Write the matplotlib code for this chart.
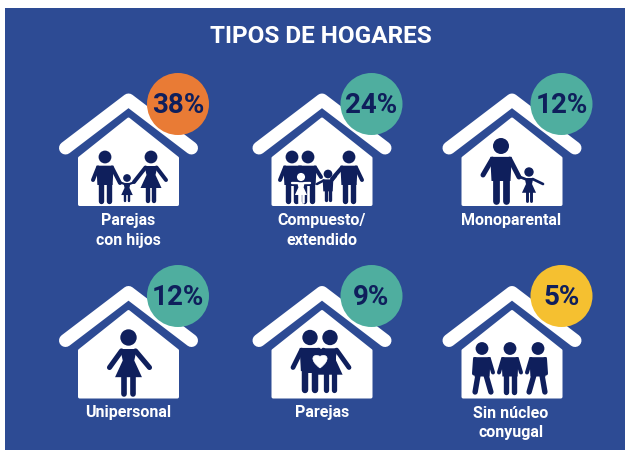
import matplotlib
matplotlib.use("Agg")
import matplotlib.pyplot as plt
from matplotlib.patches import Circle, Polygon, Rectangle, PathPatch
from matplotlib.path import Path

# Data
title = "TIPOS DE HOGARES"
labels = [["Parejas", "con hijos"], ["Compuesto/", "extendido"], ["Monoparental"],
          ["Unipersonal"], ["Parejas"], ["Sin núcleo", "conyugal"]]
percents = [38, 24, 12, 12, 9, 5]
badge_colors = ["#E97B35", "#4FAE9F", "#4FAE9F", "#4FAE9F", "#4FAE9F", "#F5C030"]

BLUE = "#2D4B94"
NAVY = "#0F1F5C"
WHITE = "#FFFFFF"
FONT = ["Roboto", "DejaVu Sans"]
PX = 0.72  # one pixel in points at dpi 100

# Layout in pixels
col_x = [128.5, 322, 512]
row_y = [0, 192.5]
label_x = [128, 322, 511]

fig = plt.figure(figsize=(6.25, 4.5), dpi=100)
ax = fig.add_axes([0, 0, 1, 1])
ax.set_xlim(0, 625)
ax.set_ylim(450, 0)
ax.axis("off")
ax.add_patch(Rectangle((5, 8), 620, 442, color=BLUE, lw=0, zorder=0))


def limb(x0, y0, x1, y1, w, color, z=3):
    ax.plot([x0, x1], [y0, y1], color=color, lw=w * PX, solid_capstyle="round", zorder=z)


def person(x, y, s, skirt=False, hands=((-12, 23), (12, 23)), splay=(0, 0), color=NAVY, z=3):
    head = 6.4 * s if s >= 0.8 else 7 * s
    ax.add_patch(Circle((x, y), head, color=color, lw=0, zorder=z))
    w = 4 * s
    if skirt:
        pts = [(-6.5, 9), (6.5, 9), (4.5, 18), (10.5, 31), (-10.5, 31), (-4.5, 18)]
        arm_y = 10.5
        shoulder = 5.5
    else:
        pts = [(-8.6, 8.7), (8.6, 8.7), (7.6, 28), (-7.6, 28)]
        arm_y = 10.5
        shoulder = 7
    ax.add_patch(Polygon([(x + a * s, y + b * s) for a, b in pts], color=color, lw=0, zorder=z))
    for hx, hy, side in [(hands[0][0], hands[0][1], -1), (hands[1][0], hands[1][1], 1)]:
        limb(x + side * shoulder * s, y + arm_y * s, x + hx, y + hy, w, color, z)
    # legs
    top = 26 * s
    foot = 45 * s - 1.5
    gap = 3.2 * s if skirt else 3.9 * s
    lw_leg = 4.4 * s if skirt else 5.4 * s
    limb(x - gap, y + top, x - gap + splay[0], y + foot, lw_leg, color, z)
    limb(x + gap, y + top, x + gap + splay[1], y + foot, lw_leg, color, z)


def house(cx, dy):
    roof_x = [cx - 63, cx, cx + 63]
    roof_y = [148 + dy, 100 + dy, 148 + dy]
    ax.plot(roof_x, roof_y, color=WHITE, lw=13 * PX, solid_capstyle="round",
            solid_joinstyle="round", zorder=1)
    body = [(cx - 49, 158 + dy), (cx, 119 + dy), (cx + 49, 158 + dy),
            (cx + 49, 204.5 + dy), (cx - 49, 204.5 + dy)]
    ax.add_patch(Polygon(body, closed=True, fc=WHITE, ec=WHITE, lw=3 * PX,
                         joinstyle="round", zorder=1))


def heart(x, y, r):
    verts = [(x, y + r), (x - 1.5 * r, y - 0.1 * r), (x - r, y - r), (x, y - 0.55 * r),
             (x + r, y - r), (x + 1.5 * r, y - 0.1 * r), (x, y + r)]
    codes = [Path.MOVETO, Path.CURVE4, Path.CURVE4, Path.CURVE4, Path.CURVE4, Path.CURVE4, Path.CURVE4]
    ax.add_patch(PathPatch(Path(verts, codes), fc=WHITE, ec=WHITE, lw=0.5, zorder=5))


def block(x0, x1, y0, y1, color=NAVY, z=3):
    ax.add_patch(Rectangle((x0, y0), x1 - x0, y1 - y0, color=color, lw=0, zorder=z))


def icon_parejas_hijos(cx, dy):
    person(cx - 23.5, 157 + dy, 1, hands=((-12, 23), (15, 26)))
    person(cx + 22.5, 157 + dy, 1, skirt=True, hands=((-17, 25), (15, 23)))
    person(cx - 1.5, 178 + dy, 0.55, skirt=True, hands=((-8, 4), (8, 4)))


def icon_compuesto(cx, dy):
    person(cx - 30, 157 + dy, 1, hands=((-12, 23), (0, 20)))
    person(cx - 14, 157 + dy, 1, hands=((-2, 20), (13, 20)))
    block(cx - 36, cx - 8, 166 + dy, 186 + dy)
    person(cx - 21, 177 + dy, 0.58, skirt=True, hands=((-9, 6), (9, 6)), color=WHITE, z=4)
    person(cx + 27, 157 + dy, 1, hands=((-17, 22), (13, 23)))
    person(cx + 6, 174 + dy, 0.62, hands=((-11, 10), (8, 2)))


def icon_monoparental(cx, dy):
    person(cx - 11, 146 + dy, 1.25, hands=((-18, 29), (18, 31)))
    person(cx + 17, 172 + dy, 0.67, skirt=True, hands=((-9, 5), (14, 12)))


def icon_unipersonal(cx, dy):
    person(cx, 145 + dy, 1.28, skirt=True, hands=((-19, 30), (21, 30)))


def icon_parejas(cx, dy):
    person(cx - 12, 145 + dy, 1.2, hands=((-17, 30), (8, 22)))
    person(cx + 8, 145 + dy, 1.2, skirt=True, hands=((-8, 22), (19, 30)))
    block(cx - 20, cx + 14, 156 + dy, 180 + dy)
    heart(cx - 2, 168 + dy, 7.5)


def icon_sin_nucleo(cx, dy):
    person(cx - 30, 156 + dy, 1, hands=((-8, 25), (11, 24)), splay=(-3, 5))
    person(cx - 2, 156 + dy, 1, hands=((-11, 24), (11, 24)))
    person(cx + 26, 156 + dy, 1, hands=((-11, 24), (8, 25)), splay=(-5, 3))


icons = [icon_parejas_hijos, icon_compuesto, icon_monoparental,
         icon_unipersonal, icon_parejas, icon_sin_nucleo]

ax.text(321, 43, title, color=WHITE, fontsize=17.5, fontweight="bold", family=FONT,
        ha="center", va="baseline")

for i in range(6):
    cx = col_x[i % 3]
    dy = row_y[i // 3]
    house(cx, dy)
    icons[i](cx, dy)
    bx = cx + 49.5
    by = 104 + dy - (0.5 if i > 2 else 0)
    ax.add_patch(Circle((bx, by), 31, color=badge_colors[i], lw=0, zorder=6))
    ax.text(bx, by + 9, f"{percents[i]}%", color=NAVY, fontsize=20, fontweight="bold",
            family=FONT, ha="center", va="baseline", zorder=7)
    for k, line in enumerate(labels[i]):
        ax.text(label_x[i % 3], 225 + dy + 20 * k, line, color=WHITE, fontsize=11.5,
                fontweight="bold", family=FONT, ha="center", va="baseline", zorder=7)

fig.savefig("out.png", dpi=100, facecolor="white")
